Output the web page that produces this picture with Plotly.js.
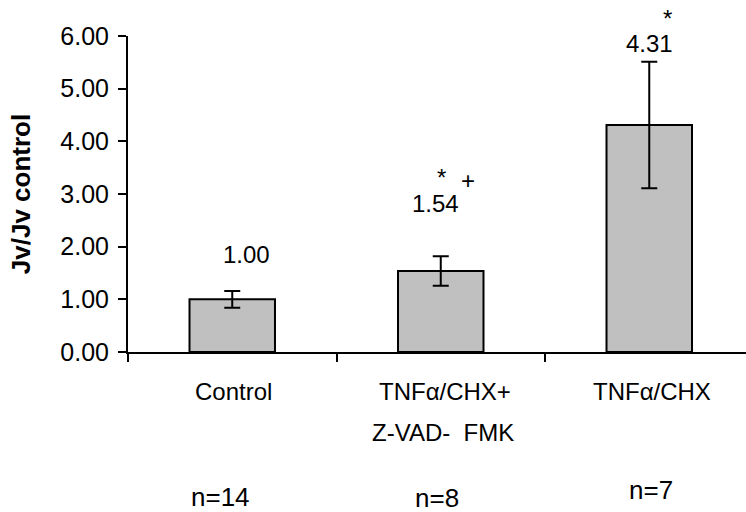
<!DOCTYPE html>
<html>
<head>
<meta charset="utf-8">
<script src="https://cdn.plot.ly/plotly-3.0.1.min.js"></script>
<style>html,body{margin:0;padding:0;background:#fff;}#chart{width:746px;height:512px;}</style>
</head>
<body>
<div id="chart"></div>
<script>
// ---- data ----
const categories = ['Control', 'TNFα/CHX+ Z-VAD- FMK', 'TNFα/CHX'];
const values = [1.00, 1.54, 4.31];
const errors = [0.16, 0.28, 1.20];
const tickLine1 = ['Control', 'TNFα/CHX+', 'TNFα/CHX'];
const tickLine2 = ['', 'Z-VAD-\u00a0 FMK', ''];
const nLabels = ['n=14', 'n=8', 'n=7'];
const sigMarks = [[], ['*', '+'], ['*']];
const yTitle = 'Jv/Jv control';

// ---- style / placement (pixels) ----
const FONT = 'Liberation Sans, Arial, sans-serif';
const valueShift = [[14, 45], [-5, 67], [0, 82]];
const sigShift = [[], [[1, 93], [27, 90]], [[18, 107]]];
const line1Shift = [[1, -39.5], [4, -39.5], [3, -39.5]];
const line2Shift = [[0, -80], [2, -80], [0, -80]];
const nShift = [[-12, -144.5], [-4, -145.5], [2, -137.5]];

const trace = {
  type: 'bar',
  x: categories,
  y: values,
  width: 0.41,
  marker: {color: '#C0C0C0', line: {color: '#000', width: 2}},
  error_y: {type: 'data', array: errors, visible: true, color: '#000', thickness: 2, width: 8},
  hoverinfo: 'skip'
};

const annotations = [];
const txt = (x, y, text, shift, size) => ({
  x: x, y: y, xref: 'x', yref: 'y', text: text, showarrow: false,
  xanchor: 'center', yanchor: 'middle', xshift: shift[0], yshift: shift[1],
  font: {family: FONT, size: size, color: '#000'}
});
categories.forEach((c, i) => {
  annotations.push(txt(c, values[i], values[i].toFixed(2), valueShift[i], 24));
  sigMarks[i].forEach((m, j) => annotations.push(txt(c, values[i], m, sigShift[i][j], 24)));
  annotations.push(txt(c, 0, tickLine1[i], line1Shift[i], 24));
  if (tickLine2[i]) annotations.push(txt(c, 0, tickLine2[i], line2Shift[i], 24));
  annotations.push(txt(c, 0, nLabels[i], nShift[i], 26));
});

const layout = {
  width: 746, height: 512,
  margin: {l: 128, r: 0, t: 36, b: 160, pad: 0},
  paper_bgcolor: '#fff', plot_bgcolor: '#fff',
  showlegend: false,
  font: {family: FONT, size: 24, color: '#000'},
  xaxis: {
    type: 'category', range: [-0.5, 2.464],
    showline: true, linecolor: '#000', linewidth: 2,
    ticks: 'outside', tickson: 'boundaries', ticklen: 8, tickwidth: 2, tickcolor: '#000',
    showticklabels: false, showgrid: false, zeroline: false, fixedrange: true
  },
  yaxis: {
    range: [0, 6], dtick: 1, tickformat: '.2f',
    showline: true, linecolor: '#000', linewidth: 2,
    ticks: 'outside', ticklen: 8, tickwidth: 2, tickcolor: '#000',
    ticklabelstandoff: 4,
    tickfont: {family: FONT, size: 25, color: '#000'},
    showgrid: false, zeroline: false, fixedrange: true, automargin: false,
    title: {text: yTitle, font: {family: FONT, size: 26, color: '#000', weight: 'bold'}, standoff: 22}
  },
  annotations: annotations
};

Plotly.newPlot('chart', [trace], layout, {staticPlot: true, displayModeBar: false});
</script>
</body>
</html>
